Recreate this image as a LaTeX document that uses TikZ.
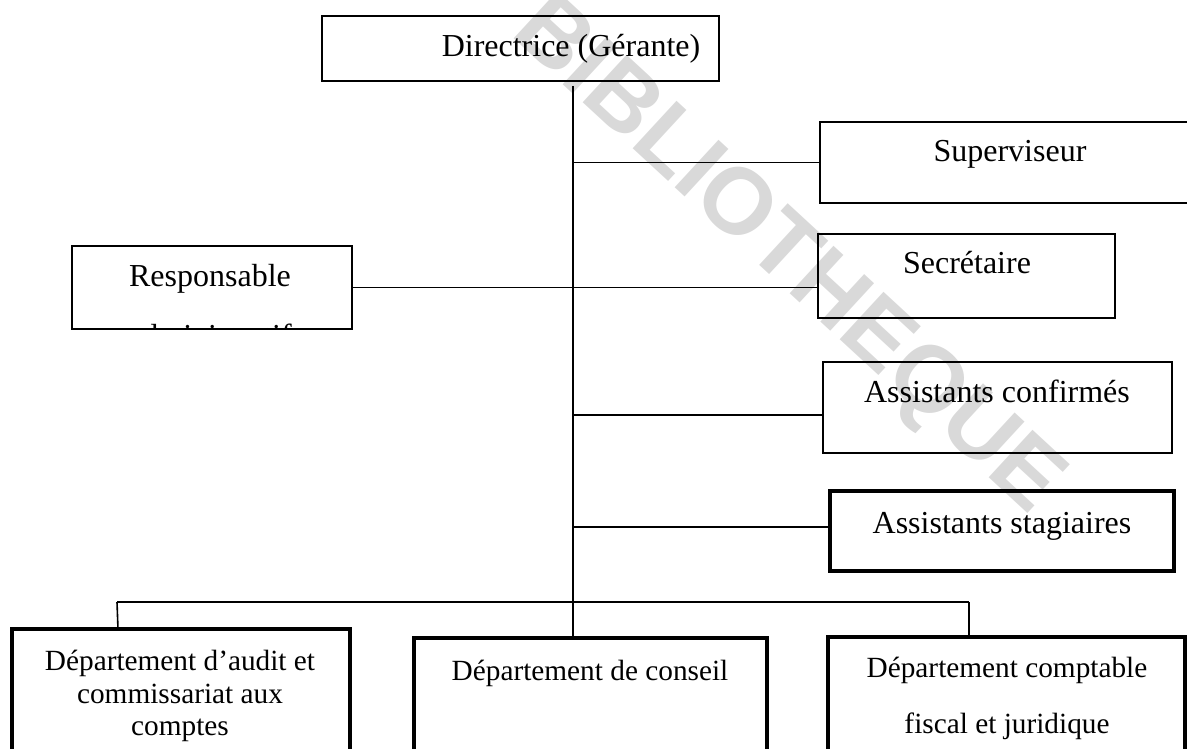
\documentclass[tikz,border=0pt]{standalone}
\usepackage{fontspec}
\setmainfont{Liberation Serif}
\newfontfamily\wmfont{Liberation Sans Bold}
\definecolor{wmgray}{gray}{0.85}
\tikzset{
  box/.style={draw=black, line width=1.6pt, inner sep=0pt, outer sep=0pt},
  thickbox/.style={draw=black, line width=4.5pt, inner sep=0pt, outer sep=0pt},
  lbl/.style={inner sep=0pt, anchor=base, font=\fontsize{32}{36}\selectfont},
  lbls/.style={inner sep=0pt, anchor=base, font=\fontsize{29.3}{34}\selectfont},
  conn/.style={draw=black, line width=1.6pt},
  wmark/.style={inner sep=0pt, text=wmgray, font=\wmfont\fontsize{94}{100}\selectfont}
}
\begin{document}
\begin{tikzpicture}[x=1pt,y=-1pt]
\useasboundingbox (0,0) rectangle (1187,749);
% watermark
\node[wmark, rotate=-42.7] (wm) at (786,258) {BIBLIOTHEQUE};
% boxes
\node[box, minimum width=397pt, minimum height=65pt] (dir) at (520.5,48.5) {};
\node[box, minimum width=380pt, minimum height=81pt] (sup) at (1010,162.5) {};
\node[box, minimum width=297pt, minimum height=84pt] (sec) at (966.5,276) {};
\node[box, minimum width=349pt, minimum height=91pt] (conf) at (997.5,407.5) {};
\node[thickbox, minimum width=344pt, minimum height=80pt] (stag) at (1002,531) {};
\node[box, minimum width=280pt, minimum height=83pt] (resp) at (212,287.5) {};
\node[thickbox, minimum width=338pt, minimum height=131pt] (audit) at (181,694.5) {};
\node[thickbox, minimum width=353pt, minimum height=122pt] (cons) at (590.5,699) {};
\node[thickbox, minimum width=357pt, minimum height=123pt] (compt) at (1006.5,698.5) {};
% texts
\node[lbl] (tdir) at (571,57) {Directrice (Gérante)};
\node[lbl] (tsup) at (1010,162) {Superviseur};
\node[lbl] (tsec) at (967,273) {Secrétaire};
\node[lbl] (tconf) at (997,402) {Assistants confirmés};
\node[lbl] (tstag) at (1002,533) {Assistants stagiaires};
\node[lbl] (tresp) at (210,286) {Responsable};
\begin{scope}
  \clip (73,247) rectangle (351,328);
  \node[lbl] (tresp2) at (210,346) {administratif};
\end{scope}
\node[lbls] (taud1) at (180,670) {Département d’audit et};
\node[lbls] (taud2) at (180,703) {commissariat aux};
\node[lbls] (taud3) at (180,735) {comptes};
\node[lbls] (tcons) at (590,680) {Département de conseil};
\node[lbls] (tcomp1) at (1007,677) {Département comptable};
\node[lbls] (tcomp2) at (1007,733) {fiscal et juridique};
% connectors
\coordinate (spTop) at (573,86);
\coordinate (barL) at (117,602);
\coordinate (barR) at (969,602);
\draw[conn] (spTop) -- (spTop |- cons.north);
\draw[conn] (spTop |- sup.west) -- (sup.west);
\draw[conn] (resp.east) -- (resp.east -| sec.west);
\draw[conn] (573,415) -- (conf.west |- 0,415);
\draw[conn] (573,527) -- (stag.west |- 0,527);
\draw[conn] (barL) -- (barR);
\draw[conn] (barL) -- (118,629) -- (audit.north -| 118,0);
\draw[conn] (barR) -- (barR |- compt.north);
\end{tikzpicture}
\end{document}
